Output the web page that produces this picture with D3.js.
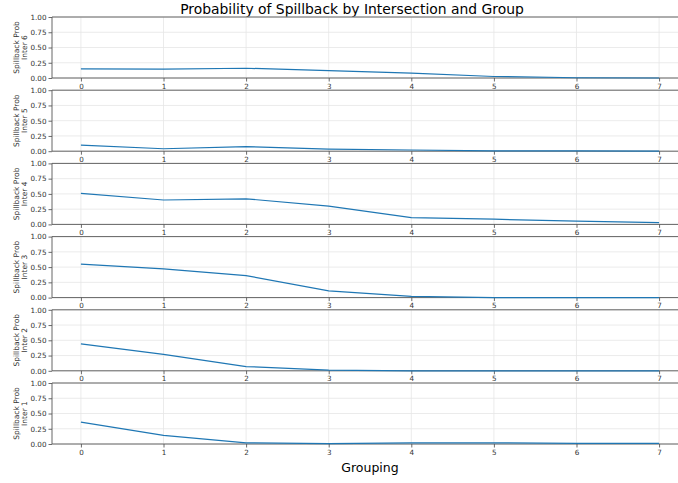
<!DOCTYPE html>
<html>
<head>
<meta charset="utf-8">
<script src="https://cdn.jsdelivr.net/npm/d3@7"></script>
<style>
  html, body { margin: 0; padding: 0; background: #fff; }
  svg { display: block; font-family: "DejaVu Sans", sans-serif; }
</style>
</head>
<body>
<svg id="chart" width="678" height="483"></svg>
<script>
// Groupings on the x axis
const groups = [0, 1, 2, 3, 4, 5, 6, 7];
// Panel order, top to bottom
const intersections = ["Inter 6", "Inter 5", "Inter 4", "Inter 3", "Inter 2", "Inter 1"];
// Spillback probability per grouping for each intersection
const inter6 = [0.15, 0.145, 0.16, 0.12, 0.08, 0.025, 0.004, 0.0];
const inter5 = [0.10, 0.04, 0.075, 0.035, 0.02, 0.005, 0.005, 0.0];
const inter4 = [0.51, 0.40, 0.42, 0.30, 0.11, 0.085, 0.055, 0.03];
const inter3 = [0.55, 0.47, 0.36, 0.11, 0.02, 0.0, 0.0, 0.0];
const inter2 = [0.44, 0.27, 0.07, 0.01, 0.0, 0.0, 0.0, 0.0];
const inter1 = [0.36, 0.14, 0.02, 0.005, 0.02, 0.02, 0.01, 0.01];
const yTicks = [0, 0.25, 0.5, 0.75, 1.0];
const xTicks = [0, 1, 2, 3, 4, 5, 6, 7];

const series = [inter6, inter5, inter4, inter3, inter2, inter1];

const svg = d3.select("#chart");
const left = 52, right = 688;
const top0 = 17, panelH = 61, step = 73.2;

const x = d3.scaleLinear().domain([-0.35, 7.35]).range([left, right]);

svg.append("text")
  .attr("x", 352).attr("y", 13.5)
  .attr("text-anchor", "middle")
  .attr("font-size", 13.9)
  .attr("fill", "#000")
  .text("Probability of Spillback by Intersection and Group");

series.forEach((vals, i) => {
  const t = top0 + i * step;
  const y = d3.scaleLinear().domain([0, 1]).range([t + panelH, t]);
  const g = svg.append("g");

  // grid
  g.selectAll(".hg").data(yTicks).enter().append("line")
    .attr("x1", left).attr("x2", right)
    .attr("y1", d => y(d)).attr("y2", d => y(d))
    .attr("stroke", "#e6e6e6").attr("stroke-width", 0.8);
  g.selectAll(".vg").data(xTicks).enter().append("line")
    .attr("x1", d => x(d)).attr("x2", d => x(d))
    .attr("y1", t).attr("y2", t + panelH)
    .attr("stroke", "#e6e6e6").attr("stroke-width", 0.8);

  // y axis
  const ya = g.append("g").attr("transform", `translate(${left},0)`)
    .call(d3.axisLeft(y).tickValues(yTicks).tickFormat(d3.format(".2f")).tickSize(3.5).tickPadding(2));
  ya.select(".domain").remove();
  ya.selectAll("line").attr("stroke", "#444").attr("stroke-width", 0.8);
  ya.selectAll("text").attr("font-size", 7.2).attr("fill", "#333")
    .attr("font-family", "DejaVu Sans, sans-serif");

  // x axis
  const xa = g.append("g").attr("transform", `translate(0,${t + panelH})`)
    .call(d3.axisBottom(x).tickValues(xTicks).tickFormat(d3.format("d")).tickSize(3.5).tickPadding(2));
  xa.select(".domain").remove();
  xa.selectAll("line").attr("stroke", "#444").attr("stroke-width", 0.8);
  xa.selectAll("text").attr("font-size", 7.2).attr("fill", "#333")
    .attr("font-family", "DejaVu Sans, sans-serif");

  // spines
  g.append("line").attr("x1", left).attr("x2", left).attr("y1", t).attr("y2", t + panelH)
    .attr("stroke", "#555").attr("stroke-width", 0.9);
  g.append("line").attr("x1", left).attr("x2", right).attr("y1", t).attr("y2", t)
    .attr("stroke", "#555").attr("stroke-width", 0.9);
  g.append("line").attr("x1", left).attr("x2", right).attr("y1", t + panelH).attr("y2", t + panelH)
    .attr("stroke", "#555").attr("stroke-width", 0.9);

  // data line
  const line = d3.line().x((d, j) => x(groups[j])).y(d => y(d));
  g.append("path").datum(vals)
    .attr("d", line)
    .attr("fill", "none")
    .attr("stroke", "#1f77b4")
    .attr("stroke-width", 1.2);

  // y label (two lines)
  const lbl = g.append("text")
    .attr("transform", `translate(20,${t + panelH / 2}) rotate(-90)`)
    .attr("text-anchor", "middle")
    .attr("font-size", 7.5)
    .attr("fill", "#333");
  lbl.append("tspan").attr("x", 0).attr("dy", "-0.15em").text("Spillback Prob");
  lbl.append("tspan").attr("x", 0).attr("dy", "1.1em").text(intersections[i]);
});

svg.append("text")
  .attr("x", 370).attr("y", 472)
  .attr("text-anchor", "middle")
  .attr("font-size", 12.5)
  .attr("fill", "#000")
  .text("Grouping");
</script>
</body>
</html>
